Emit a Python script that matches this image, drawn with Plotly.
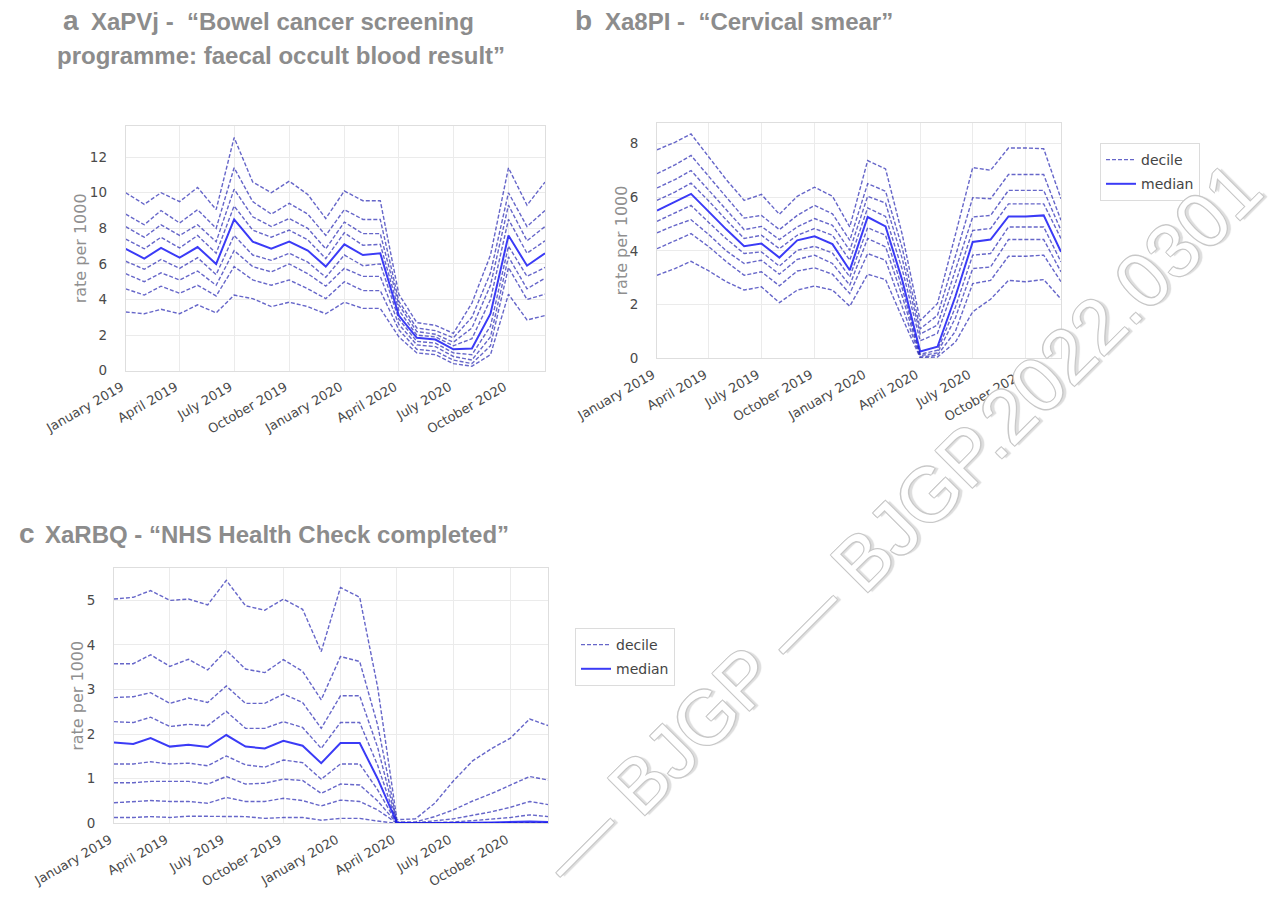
import plotly.graph_objects as go

W, H = 1285, 901

months = ["2019-01-01", "2019-02-01", "2019-03-01", "2019-04-01", "2019-05-01", "2019-06-01",
          "2019-07-01", "2019-08-01", "2019-09-01", "2019-10-01", "2019-11-01", "2019-12-01",
          "2020-01-01", "2020-02-01", "2020-03-01", "2020-04-01", "2020-05-01", "2020-06-01",
          "2020-07-01", "2020-08-01", "2020-09-01", "2020-10-01", "2020-11-01", "2020-12-01"]

tick_dates = ["2019-01-01", "2019-04-01", "2019-07-01", "2019-10-01",
              "2020-01-01", "2020-04-01", "2020-07-01", "2020-10-01"]
tick_labels = ["January 2019", "April 2019", "July 2019", "October 2019",
               "January 2020", "April 2020", "July 2020", "October 2020"]

# Panel a: XaPVj - Bowel cancer screening programme: faecal occult blood result
a_p10 = [3.3, 3.2, 3.45, 3.2, 3.7, 3.25, 4.25, 4.05, 3.6, 3.85, 3.6, 3.2, 3.85, 3.5, 3.5, 1.9, 1.0, 0.9, 0.4, 0.25, 0.9, 4.3, 2.85, 3.1]
a_p20 = [4.6, 4.25, 4.75, 4.35, 4.8, 4.2, 5.85, 5.1, 4.8, 5.1, 4.6, 4.05, 5.0, 4.5, 4.5, 2.3, 1.2, 1.1, 0.6, 0.4, 1.4, 5.8, 4.0, 4.3]
a_p30 = [5.45, 5.0, 5.5, 5.1, 5.6, 4.8, 6.75, 5.85, 5.55, 6.0, 5.45, 4.75, 5.75, 5.3, 5.3, 2.6, 1.45, 1.35, 0.8, 0.6, 1.9, 6.4, 4.6, 5.2]
a_p40 = [6.15, 5.7, 6.25, 5.75, 6.35, 5.4, 7.6, 6.5, 6.2, 6.6, 6.1, 5.25, 6.5, 5.9, 6.0, 2.9, 1.65, 1.55, 1.0, 0.9, 2.5, 7.0, 5.3, 5.8]
a_med = [6.85, 6.3, 6.9, 6.35, 6.95, 6.0, 8.5, 7.25, 6.85, 7.25, 6.75, 5.85, 7.1, 6.5, 6.6, 3.1, 1.85, 1.75, 1.2, 1.25, 3.2, 7.6, 5.9, 6.6]
a_p60 = [7.4, 6.85, 7.5, 6.9, 7.6, 6.6, 9.25, 7.9, 7.5, 7.9, 7.35, 6.3, 7.75, 7.05, 7.1, 3.4, 2.0, 1.9, 1.4, 1.8, 4.0, 8.5, 6.6, 7.3]
a_p70 = [8.1, 7.5, 8.2, 7.6, 8.2, 7.25, 10.2, 8.65, 8.1, 8.55, 8.0, 6.85, 8.35, 7.7, 7.7, 3.7, 2.2, 2.05, 1.6, 2.4, 4.8, 9.3, 7.3, 8.1]
a_p80 = [8.8, 8.2, 9.0, 8.3, 9.05, 8.0, 11.4, 9.5, 8.8, 9.4, 8.8, 7.6, 9.05, 8.5, 8.5, 3.9, 2.4, 2.25, 1.85, 3.0, 5.5, 10.0, 8.1, 9.0]
a_p90 = [10.0, 9.35, 10.0, 9.5, 10.3, 9.05, 13.1, 10.6, 10.0, 10.65, 9.9, 8.55, 10.1, 9.55, 9.55, 4.3, 2.7, 2.55, 2.1, 3.8, 6.5, 11.4, 9.3, 10.6]

# Panel b: Xa8PI - Cervical smear
b_p10 = [3.09, 3.34, 3.61, 3.25, 2.85, 2.54, 2.66, 2.07, 2.54, 2.69, 2.54, 1.94, 3.13, 2.93, 1.5, 0.02, 0.05, 0.6, 1.73, 2.2, 2.9, 2.85, 2.93, 2.2]
b_p20 = [4.08, 4.37, 4.64, 4.15, 3.6, 3.09, 3.22, 2.7, 3.25, 3.37, 3.13, 2.41, 3.9, 3.65, 1.9, 0.05, 0.12, 1.0, 2.78, 2.9, 3.8, 3.8, 3.84, 2.85]
b_p30 = [4.67, 4.95, 5.16, 4.6, 4.0, 3.53, 3.65, 3.13, 3.68, 3.84, 3.53, 2.72, 4.46, 4.15, 2.3, 0.1, 0.2, 1.5, 3.34, 3.4, 4.42, 4.42, 4.42, 3.22]
b_p40 = [5.1, 5.41, 5.69, 5.05, 4.45, 3.9, 3.96, 3.43, 4.02, 4.17, 3.92, 3.03, 4.86, 4.58, 2.6, 0.15, 0.3, 1.9, 3.84, 3.9, 4.89, 4.89, 4.89, 3.59]
b_med = [5.5, 5.82, 6.12, 5.45, 4.8, 4.17, 4.27, 3.75, 4.39, 4.54, 4.25, 3.28, 5.26, 4.91, 2.9, 0.25, 0.43, 2.3, 4.33, 4.42, 5.28, 5.28, 5.32, 3.96]
b_p60 = [5.88, 6.19, 6.52, 5.85, 5.15, 4.46, 4.58, 4.08, 4.58, 4.83, 4.58, 3.65, 5.6, 5.28, 3.3, 0.65, 0.93, 2.8, 4.76, 4.83, 5.75, 5.75, 5.75, 4.46]
b_p70 = [6.34, 6.65, 6.99, 6.25, 5.5, 4.79, 4.91, 4.42, 4.89, 5.2, 4.95, 4.02, 6.03, 5.78, 3.7, 0.9, 1.24, 3.3, 5.26, 5.32, 6.25, 6.25, 6.25, 4.76]
b_p80 = [6.87, 7.2, 7.55, 6.75, 6.0, 5.22, 5.32, 4.79, 5.32, 5.69, 5.38, 4.39, 6.5, 6.22, 4.1, 1.1, 1.6, 3.8, 5.98, 5.94, 6.84, 6.84, 6.84, 5.14]
b_p90 = [7.76, 8.04, 8.35, 7.5, 6.65, 5.88, 6.1, 5.36, 6.03, 6.37, 6.03, 4.89, 7.36, 7.05, 4.6, 1.4, 2.04, 4.6, 7.1, 7.0, 7.83, 7.83, 7.8, 5.94]

# Panel c: XaRBQ - NHS Health Check completed
c_p10 = [0.13, 0.13, 0.15, 0.13, 0.16, 0.16, 0.15, 0.15, 0.11, 0.13, 0.13, 0.07, 0.11, 0.11, 0.05, 0.0, 0.0, 0.0, 0.0, 0.0, 0.0, 0.0, 0.0, 0.0]
c_p20 = [0.46, 0.49, 0.51, 0.49, 0.49, 0.45, 0.58, 0.49, 0.49, 0.56, 0.51, 0.39, 0.52, 0.49, 0.3, 0.0, 0.0, 0.0, 0.0, 0.0, 0.0, 0.0, 0.0, 0.0]
c_p30 = [0.91, 0.91, 0.94, 0.94, 0.94, 0.88, 1.05, 0.88, 0.9, 0.99, 0.96, 0.67, 0.88, 0.86, 0.5, 0.0, 0.0, 0.0, 0.0, 0.0, 0.0, 0.0, 0.0, 0.0]
c_p40 = [1.33, 1.33, 1.38, 1.33, 1.35, 1.29, 1.51, 1.31, 1.26, 1.42, 1.36, 0.99, 1.33, 1.33, 0.75, 0.0, 0.0, 0.0, 0.0, 0.0, 0.0, 0.01, 0.01, 0.01]
c_med = [1.81, 1.78, 1.91, 1.72, 1.76, 1.71, 1.98, 1.72, 1.68, 1.85, 1.74, 1.35, 1.8, 1.8, 1.0, 0.01, 0.0, 0.0, 0.0, 0.01, 0.02, 0.03, 0.04, 0.03]
c_p60 = [2.28, 2.26, 2.38, 2.17, 2.22, 2.19, 2.51, 2.13, 2.13, 2.28, 2.15, 1.68, 2.26, 2.26, 1.3, 0.01, 0.0, 0.01, 0.03, 0.06, 0.09, 0.13, 0.19, 0.15]
c_p70 = [2.82, 2.84, 2.93, 2.69, 2.81, 2.71, 3.08, 2.69, 2.69, 2.9, 2.71, 2.13, 2.86, 2.86, 1.7, 0.02, 0.01, 0.05, 0.1, 0.18, 0.26, 0.36, 0.49, 0.42]
c_p80 = [3.58, 3.58, 3.78, 3.52, 3.68, 3.44, 3.88, 3.46, 3.38, 3.67, 3.41, 2.77, 3.74, 3.63, 2.2, 0.03, 0.03, 0.15, 0.3, 0.5, 0.67, 0.85, 1.05, 0.97]
c_p90 = [5.03, 5.07, 5.22, 5.0, 5.03, 4.9, 5.45, 4.88, 4.78, 5.03, 4.8, 3.85, 5.29, 5.07, 3.05, 0.08, 0.1, 0.45, 0.95, 1.4, 1.68, 1.91, 2.34, 2.19]

panels = [
    ("x", "y", [a_p10, a_p20, a_p30, a_p40, a_p60, a_p70, a_p80, a_p90], a_med, None),
    ("x2", "y2", [b_p10, b_p20, b_p30, b_p40, b_p60, b_p70, b_p80, b_p90], b_med, "legend"),
    ("x3", "y3", [c_p10, c_p20, c_p30, c_p40, c_p60, c_p70, c_p80, c_p90], c_med, "legend2"),
]

DEC_COLOR = "rgba(30,30,175,0.68)"
MED_COLOR = "rgba(25,25,245,0.85)"

fig = go.Figure()
for xa, ya, deciles, med, leg in panels:
    for i, d in enumerate(deciles):
        fig.add_trace(go.Scatter(
            x=months, y=d, xaxis=xa, yaxis=ya, mode="lines", name="decile",
            legendgroup="dec", line=dict(color=DEC_COLOR, width=1.4, dash="4px,2px"),
            showlegend=(leg is not None and i == 0), legend=leg or "legend",
            hoverinfo="skip"))
    fig.add_trace(go.Scatter(
        x=months, y=med, xaxis=xa, yaxis=ya, mode="lines", name="median",
        legendgroup="med", line=dict(color=MED_COLOR, width=2.0),
        showlegend=(leg is not None), legend=leg or "legend", hoverinfo="skip"))

def px_x(v):
    return v / W

def px_y(v):
    return 1 - v / H

tickfont = dict(family="DejaVu Sans", size=13, color="#4a4a4a")

def xaxis(dom, anchor):
    return dict(domain=dom, anchor=anchor, type="date", automargin=False,
                range=["2019-01-01", "2020-12-01"],
                tickvals=tick_dates, ticktext=tick_labels, tickangle=-30,
                tickfont=tickfont, showgrid=True, gridcolor="#ebebeb", gridwidth=1,
                showline=True, linecolor="#dedede", linewidth=1, mirror=True,
                zeroline=False, ticks="", ticklabelstandoff=3, ticklabelshift=-4)

def yaxis(dom, anchor, top, dtick):
    return dict(domain=dom, anchor=anchor, range=[0, top], dtick=dtick, automargin=False,
                tickfont=dict(family="DejaVu Sans", size=13.5, color="#4a4a4a"),
                showgrid=True, gridcolor="#ebebeb", gridwidth=1,
                showline=True, linecolor="#dedede", linewidth=1, mirror=True,
                zeroline=False, ticks="", ticklabelstandoff=15)

# plot-area pixel boxes (left, right, top, bottom)
A = (125.7, 545.0, 126.0, 370.7)
B = (657.0, 1061.0, 122.7, 358.3)
C = (114.0, 548.3, 568.3, 823.3)

legend_style = dict(xanchor="left", yanchor="top", bordercolor="#dcdcdc", borderwidth=1,
                    bgcolor="white", font=dict(family="DejaVu Sans", size=14, color="#444"),
                    tracegroupgap=3, itemwidth=30)

fig.update_layout(
    width=W, height=H, margin=dict(l=0, r=0, t=0, b=0, autoexpand=False),
    paper_bgcolor="white", plot_bgcolor="white",
    xaxis=xaxis([px_x(A[0]), px_x(A[1])], "y"),
    yaxis=yaxis([px_y(A[3]), px_y(A[2])], "x", 13.75, 2),
    xaxis2=xaxis([px_x(B[0]), px_x(B[1])], "y2"),
    yaxis2=yaxis([px_y(B[3]), px_y(B[2])], "x2", 8.77, 2),
    xaxis3=xaxis([px_x(C[0]), px_x(C[1])], "y3"),
    yaxis3=yaxis([px_y(C[3]), px_y(C[2])], "x3", 5.72, 1),
    legend=dict(x=px_x(1100), y=px_y(143), **legend_style),
    legend2=dict(x=px_x(575), y=px_y(628), **legend_style),
    showlegend=True,
)

TITLE_FONT = "Liberation Sans, Arial"
GRAY = "#8c8c8c"

def ann(x, y, text, size, xanchor="left", bold=True, color=GRAY, angle=0, family=TITLE_FONT):
    fig.add_annotation(x=px_x(x), y=px_y(y), xref="paper", yref="paper",
                       text=("<b>%s</b>" % text) if bold else text, showarrow=False,
                       xanchor=xanchor, yanchor="middle", textangle=angle,
                       font=dict(family=family, size=size, color=color))

# panel titles
ann(61, 20, "a", 28)
ann(89, 22, "XaPVj -  “Bowel cancer screening", 24)
ann(55, 55, "programme: faecal occult blood result”", 24)
ann(573, 20, "b", 28)
ann(603, 22, "Xa8PI -  “Cervical smear”", 24)
ann(17, 533, "c", 28)
ann(43, 534, "XaRBQ - “NHS Health Check completed”", 24)

# y-axis titles
for (x, y) in [(80, (A[2] + A[3]) / 2), (621, (B[2] + B[3]) / 2), (78, (C[2] + C[3]) / 2)]:
    ann(x, y, "rate per 1000", 16, xanchor="center", bold=False, color="#8f8f8f",
        angle=-90, family="DejaVu Sans")

# watermark
fig.add_annotation(x=px_x(900), y=px_y(522), xref="paper", yref="paper",
                   text="— BJGP — BJGP.2022.0301", showarrow=False, textangle=-45,
                   font=dict(family="Liberation Sans, Arial", size=76, color="white",
                             shadow="1px 1px 0 #c8c8c8, -1px -1px 0 #c8c8c8, 1px -1px 0 #c8c8c8, -1px 1px 0 #c8c8c8, 3px 3px 1px #dddddd"),
                   xanchor="center", yanchor="middle")

fig.write_html("out.html")
